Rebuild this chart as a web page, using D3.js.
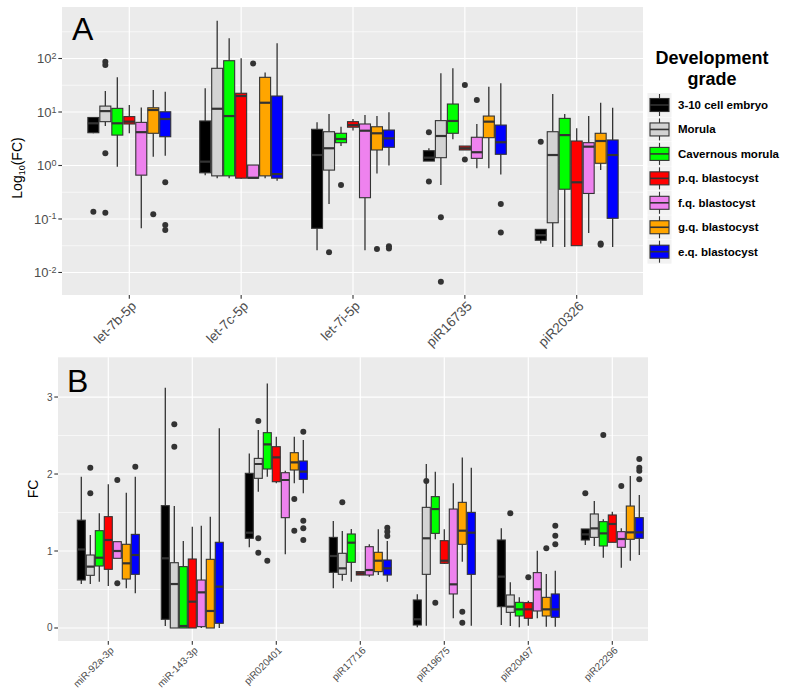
<!DOCTYPE html>
<html><head><meta charset="utf-8">
<script src="https://cdn.jsdelivr.net/npm/d3@7"></script>
<style>body{margin:0;background:#fff;} text{font-family:"Liberation Sans",Arial,Helvetica,sans-serif;}</style>
</head><body><svg id="c" width="790" height="695"></svg>
<script>
// ---------- DATA ----------
const grades = ["3-10 cell embryo","Morula","Cavernous morula","p.q. blastocyst","f.q. blastocyst","g.q. blastocyst","e.q. blastocyst"];
const gradeColors = ["#000000","#D3D3D3","#00FF00","#FF0000","#EE82EE","#FFA500","#0000FF"];

// Panel A (log scale). Each entry: [lowerWhisker, q1, median, q3, upperWhisker, [outliers]]
const catsA = ["let-7b-5p","let-7c-5p","let-7i-5p","piR16735","piR20326"];
const aEmbryo = [[4.0,4.1,6.15,7.9,7.9,[0.137]],[0.66,0.73,1.18,6.8,27.7,[]],[0.026,0.067,1.57,4.75,6.4,[]],[1.21,1.21,1.4,1.89,2.1,[4.2,0.50]],[0.035,0.040,0.050,0.064,0.064,[2.79]]];
const aMorula = [[5.5,6.6,10.4,12.9,24.7,[87,75.6,1.69,0.131]],[0.58,0.64,11.5,65.6,509,[]],[0.19,0.82,2.1,4.28,9.2,[0.024]],[0.43,1.4,3.56,6.9,52.9,[0.108,0.0067]],[0.030,0.085,1.57,4.28,21.7,[]]];
const aCavMorula = [[0.95,3.7,6.15,11.7,44.5,[]],[0.58,0.64,8.4,91,239,[]],[2.31,2.67,3.13,4.0,5.3,[0.43]],[3.09,4.0,6.8,14.1,65.6,[]],[0.030,0.36,3.7,7.6,9.2,[]]];
const aPQ = [[4.0,5.97,6.6,8.2,13.5,[]],[0.56,0.58,19.9,22.4,101,[]],[4.5,5.2,5.7,6.6,7.4,[]],[1.95,1.95,2.1,2.31,2.31,[32,1.3]],[0.0317,0.0317,0.485,2.87,4.96,[]]];
const aFQ = [[0.067,0.66,4.2,6.4,12.2,[]],[0.58,0.58,0.59,1.02,1.02,[81]],[0.026,0.25,4.47,5.97,8.8,[]],[0.89,1.36,1.77,3.37,5.97,[16.8]],[0.055,0.30,2.25,2.67,8.4,[]]];
const aGQ = [[1.46,4.0,10.9,12.0,25.8,[0.122]],[0.58,0.64,14.9,44.5,55,[]],[0.71,1.95,4.0,5.3,8.4,[0.0275]],[0.89,3.31,6.6,8.4,29.7,[]],[0.82,1.1,2.87,4.0,14.9,[0.035,0.033]]];
const aEQ = [[1.52,3.45,7.4,10.1,23.9,[0.485,0.077,0.062]],[0.52,0.58,0.69,19.9,192,[]],[1.0,2.19,3.22,4.6,9.9,[0.031,0.028]],[0.68,1.62,2.72,5.7,34.4,[0.19,0.056]],[0.030,0.103,1.57,3.0,12.0,[]]];
const yTicksA = [0.01,0.1,1,10,100];
const yTickExpA = ["-2","-1","0","1","2"];

// Panel B (linear scale)
const catsB = ["miR-92a-3p","miR-143-3p","piR020401","piR17716","piR19675","piR20497","piR22296"];
const bEmbryo = [[0.57,0.623,1.02,1.40,1.965,[]],[0.026,0.113,0.905,1.589,3.12,[]],[1.048,1.165,1.238,2.009,2.268,[]],[0.515,0.723,0.935,1.177,1.39,[]],[0.009,0.039,0.113,0.364,0.437,[]],[0.039,0.277,0.667,1.143,1.294,[]],[1.078,1.143,1.216,1.286,1.286,[1.749]]];
const bMorula = [[0.57,0.684,0.797,0.948,1.208,[2.08,1.75]],[0,0,0.571,0.848,1.584,[2.645,2.355]],[1.77,1.944,2.13,2.203,2.571,[2.688,1.165,0.978]],[0.615,0.697,0.775,0.970,1.26,[1.632]],[0.03,0.697,1.165,1.567,2.13,[1.909]],[0.026,0.203,0.277,0.429,0.593,[1.489]],[1.065,1.177,1.294,1.481,1.649,[]]];
const bCavMorula = [[0.60,0.805,0.913,1.264,1.49,[]],[0,0,0.026,0.797,1.13,[]],[1.965,2.065,2.385,2.537,3.177,[0.874]],[0.60,0.853,1.108,1.221,1.286,[]],[1.152,1.229,1.545,1.706,2.03,[0.329]],[0.009,0.156,0.242,0.333,0.398,[]],[0.913,1.065,1.229,1.381,1.411,[2.506]]];
const bPQ = [[0.545,0.762,1.143,1.446,1.866,[]],[0,0,0.342,0.896,1.316,[]],[1.879,1.9,2.216,2.355,2.485,[]],[0.688,0.688,0.71,0.732,0.732,[]],[0.831,0.840,0.874,1.134,1.281,[]],[0.03,0.126,0.242,0.329,0.355,[0.658]],[1.113,1.113,1.351,1.468,1.511,[]]];
const bFQ = [[0.905,0.905,1.0,1.121,1.121,[1.922,0.58]],[0,0.017,0.463,0.623,1.329,[]],[0.957,1.433,1.922,2.017,2.043,[]],[0.667,0.688,0.753,1.056,1.087,[]],[0.126,0.442,0.567,1.545,1.879,[]],[0.126,0.221,0.502,0.719,1.004,[]],[0.784,1.048,1.156,1.251,1.294,[1.844]]];
const bGQ = [[0.515,0.636,0.84,1.087,1.758,[]],[0,0,0.221,0.892,1.446,[]],[1.879,2.052,2.152,2.277,2.485,[1.675,1.264]],[0.688,0.732,0.874,0.983,1.281,[]],[0.861,1.087,1.264,1.632,2.216,[0.212,0.069]],[0.017,0.156,0.242,0.398,0.701,[1.035]],[0.874,1.152,1.242,1.584,1.974,[]]];
const bEQ = [[0.45,0.697,0.948,1.216,1.965,[2.095]],[0,0.061,0.537,1.113,2.593,[]],[1.749,1.931,2.03,2.169,2.442,[2.55,1.394,1.294,1.143]],[0.60,0.688,0.775,0.883,1.13,[1.303,1.251,1.195]],[0.03,0.697,1.238,1.502,2.082,[]],[0.017,0.139,0.242,0.442,0.745,[1.329,1.199,1.087]],[0.948,1.165,1.242,1.433,1.727,[2.195,2.082,2.043,1.931]]];
const yTicksB = [0,1,2,3];

const seriesA = [aEmbryo,aMorula,aCavMorula,aPQ,aFQ,aGQ,aEQ];
const seriesB = [bEmbryo,bMorula,bCavMorula,bPQ,bFQ,bGQ,bEQ];

// ---------- DRAW ----------
const svg = d3.select("#c");
svg.append("rect").attr("width",790).attr("height",695).attr("fill","#fff");
const DARK = "#333333", TICKC = "#4D4D4D";

function drawPanel(opt){
  const {x0,x1,y0,y1,cats,series,y,xPts,minor,major,tickLabel,xFont,yFont,boxStep,labelY} = opt;
  const g = svg.append("g");
  g.append("rect").attr("x",x0).attr("y",y0).attr("width",x1-x0).attr("height",y1-y0).attr("fill","#EBEBEB");
  minor.forEach(v=>g.append("line").attr("x1",x0).attr("x2",x1).attr("y1",y(v)).attr("y2",y(v)).attr("stroke","#fff").attr("stroke-width",0.6));
  major.forEach(v=>g.append("line").attr("x1",x0).attr("x2",x1).attr("y1",y(v)).attr("y2",y(v)).attr("stroke","#fff").attr("stroke-width",1.2));
  const x = d3.scalePoint().domain(cats).range(xPts);
  cats.forEach(c=>g.append("line").attr("x1",x(c)).attr("x2",x(c)).attr("y1",y0).attr("y2",y1).attr("stroke","#fff").attr("stroke-width",1.2));
  const inner = d3.scaleBand().domain(grades).range([-0.375*boxStep,0.375*boxStep]);
  const bw = inner.bandwidth();
  const clip = "clip"+x0;
  svg.append("clipPath").attr("id",clip).append("rect").attr("x",x0).attr("y",y0).attr("width",x1-x0).attr("height",y1-y0);
  const pg = g.append("g").attr("clip-path","url(#"+clip+")");
  cats.forEach((c,ci)=>{
    grades.forEach((gr,gi)=>{
      const d = series[gi][ci];
      const cx = x(c)+inner(gr)+bw/2;
      const bx = x(c)+inner(gr);
      // outliers
      d[5].forEach(o=>pg.append("circle").attr("cx",cx).attr("cy",y(o)).attr("r",3).attr("fill",DARK));
      // whiskers
      pg.append("line").attr("x1",cx).attr("x2",cx).attr("y1",y(d[4])).attr("y2",y(d[3])).attr("stroke",DARK).attr("stroke-width",1.3);
      pg.append("line").attr("x1",cx).attr("x2",cx).attr("y1",y(d[1])).attr("y2",y(d[0])).attr("stroke",DARK).attr("stroke-width",1.3);
      // box
      const top=y(d[3]), bot=y(d[1]);
      pg.append("rect").attr("x",bx+0.5).attr("y",top).attr("width",bw-1).attr("height",Math.max(bot-top,0.5))
        .attr("fill",gradeColors[gi]).attr("stroke",DARK).attr("stroke-width",1.1);
      pg.append("line").attr("x1",bx+0.5).attr("x2",bx+bw-0.5).attr("y1",y(d[2])).attr("y2",y(d[2])).attr("stroke",DARK).attr("stroke-width",2.2);
    });
  });
  // y ticks
  major.forEach((v,i)=>{
    g.append("line").attr("x1",x0-3.7).attr("x2",x0).attr("y1",y(v)).attr("y2",y(v)).attr("stroke",DARK).attr("stroke-width",1.1);
    tickLabel(g, v, i, x0-5.5, y(v));
  });
  // x ticks and labels
  cats.forEach(c=>{
    g.append("line").attr("x1",x(c)).attr("x2",x(c)).attr("y1",y1).attr("y2",y1+3.7).attr("stroke",DARK).attr("stroke-width",1.1);
    g.append("text").attr("transform",`translate(${x(c)+1},${labelY}) rotate(-45)`).attr("text-anchor","end")
      .attr("dy","0.72em").attr("font-size",xFont).attr("fill",TICKC).text(c);
  });
}

// Panel A
const yA = d3.scaleLog().domain([Math.pow(10,-2.421),Math.pow(10,2.963)]).range([295,7]);
drawPanel({x0:62,x1:643,y0:7,y1:295,cats:catsA,series:seriesA,y:yA,xPts:[129.3,576.7],
  minor:[-1.5,-0.5,0.5,1.5,2.5].map(e=>Math.pow(10,e)),major:yTicksA,xFont:13.5,boxStep:111.85,labelY:300,
  tickLabel:(g,v,i,tx,ty)=>{
    const t=g.append("text").attr("x",tx).attr("y",ty).attr("dy","0.35em").attr("text-anchor","end").attr("font-size",13).attr("fill",TICKC);
    t.append("tspan").text("10");
    t.append("tspan").attr("dy","-0.45em").attr("font-size",9).text(yTickExpA[i]);
  }});

// Panel B
const yB = d3.scaleLinear().domain([-0.169,3.516]).range([641,357.3]);
drawPanel({x0:58,x1:648,y0:357.3,y1:641,cats:catsB,series:seriesB,y:yB,xPts:[108.3,612.3],
  minor:[0.5,1.5,2.5],major:yTicksB,xFont:10,boxStep:84,labelY:646,
  tickLabel:(g,v,i,tx,ty)=>{
    g.append("text").attr("x",tx).attr("y",ty).attr("dy","0.35em").attr("text-anchor","end").attr("font-size",10).attr("fill",TICKC).text(v);
  }});

// panel letters
svg.append("text").attr("x",72).attr("y",40).attr("font-size",32).attr("fill","#000").text("A");
svg.append("text").attr("x",67).attr("y",392).attr("font-size",32).attr("fill","#000").text("B");

// y axis titles
const ya = svg.append("text").attr("transform","translate(22,168) rotate(-90)").attr("text-anchor","middle").attr("font-size",14).attr("fill","#000");
ya.append("tspan").text("Log");
ya.append("tspan").attr("font-size",9).attr("dy","0.3em").text("10");
ya.append("tspan").attr("dy","-0.2em").text("(FC)");
svg.append("text").attr("transform","translate(38,489) rotate(-90)").attr("text-anchor","middle").attr("font-size",14).attr("fill","#000").text("FC");

// legend
svg.append("text").attr("x",712).attr("y",64).attr("text-anchor","middle").attr("font-size",18).attr("font-weight","bold").attr("fill","#000").text("Development");
svg.append("text").attr("x",712).attr("y",85).attr("text-anchor","middle").attr("font-size",18).attr("font-weight","bold").attr("fill","#000").text("grade");
const ly = d3.scalePoint().domain(grades).range([105,251.7]);
grades.forEach((gr,i)=>{
  const cy = ly(gr);
  svg.append("rect").attr("x",647.5).attr("y",cy-12).attr("width",24).attr("height",24).attr("fill","#F2F2F2");
  svg.append("line").attr("x1",659.5).attr("x2",659.5).attr("y1",cy-11).attr("y2",cy+11).attr("stroke",DARK).attr("stroke-width",1.1);
  svg.append("rect").attr("x",650).attr("y",cy-6.5).attr("width",19).attr("height",13).attr("fill",gradeColors[i]).attr("stroke",DARK).attr("stroke-width",1.1);
  svg.append("line").attr("x1",650).attr("x2",669).attr("y1",cy).attr("y2",cy).attr("stroke",DARK).attr("stroke-width",1.6);
  svg.append("text").attr("x",678).attr("y",cy).attr("dy","0.35em").attr("font-size",11.5).attr("font-weight","bold").attr("fill","#000").text(gr);
});
</script></body></html>
